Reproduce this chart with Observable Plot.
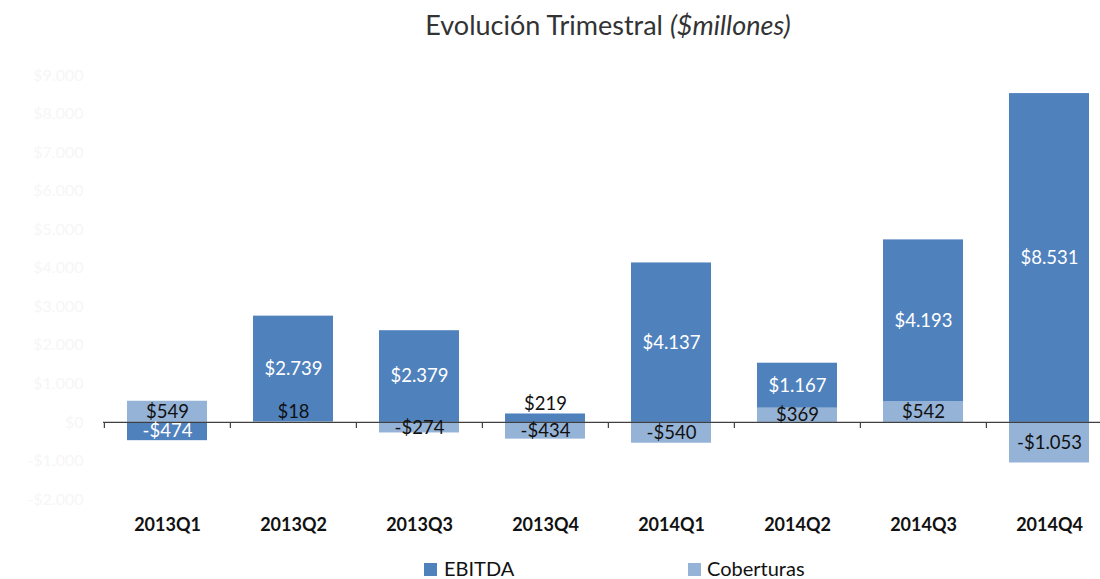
<!DOCTYPE html>
<html><head><meta charset="utf-8">
<script src="https://cdn.jsdelivr.net/npm/d3@7"></script>
<script src="https://cdn.jsdelivr.net/npm/@observablehq/plot@0.6"></script>
<style>
body{margin:0;background:#fff;font-family:Lato,"Open Sans",sans-serif;width:1100px;height:579px;overflow:hidden}
#title{height:44px;width:1010px;margin-left:103px;text-align:center;font-size:27px;line-height:50px;color:#333;white-space:nowrap}
#legend{position:relative;height:31px;font-size:20px;color:#111}
.sw{position:absolute;width:13px;height:13px;top:15px}
.lt{position:absolute;top:10px;line-height:20px}
</style></head><body>
<div id="title">Evolución Trimestral <i>($millones)</i></div>
<div id="chart"></div>
<div id="legend">
  <div class="sw" style="left:424px;background:#4f81bd"></div><div class="lt" style="left:444px">EBITDA</div>
  <div class="sw" style="left:688px;background:#95b3d7"></div><div class="lt" style="left:707px">Coberturas</div>
</div>
<script>
const quarters = ["2013Q1","2013Q2","2013Q3","2013Q4","2014Q1","2014Q2","2014Q3","2014Q4"];
const ebitda = [-474, 2739, 2379, 219, 4137, 1167, 4193, 8531];
const coberturas = [549, 18, -274, -434, -540, 369, 542, -1053];
const series = ["Coberturas","EBITDA"];
const colors = ["#95b3d7","#4f81bd"];
const yTicks = [-2000,-1000,0,1000,2000,3000,4000,5000,6000,7000,8000,9000];

const loc = d3.formatLocale({decimal:",", thousands:".", grouping:[3], currency:["$",""]});
const num = loc.format(",");
const money = v => (v < 0 ? "-" : "") + "$" + num(Math.abs(v));

const rows = [];
quarters.forEach((q, i) => {
  rows.push({q, s: "Coberturas", v: coberturas[i]});
  rows.push({q, s: "EBITDA", v: ebitda[i]});
});
quarters.forEach(q => {
  let pos = 0, neg = 0;
  rows.filter(r => r.q === q).forEach(r => {
    if (r.v >= 0) { r.y1 = pos; r.y2 = pos + r.v; pos = r.y2; }
    else { r.y1 = neg; r.y2 = neg + r.v; neg = r.y2; }
    r.mid = (r.y1 + r.y2) / 2;
    r.small = r.v > 0 && r.v < 300;
    r.label = money(r.v);
  });
});

const fontFam = "Lato, 'Open Sans', sans-serif";
const chart = Plot.plot({
  width: 1100, height: 504,
  marginLeft: 103, marginRight: -13, marginTop: 31, marginBottom: 49,
  style: {fontFamily: fontFam, background: "#fff", overflow: "hidden"},
  x: {domain: quarters, paddingInner: 0.365, paddingOuter: 0.1825, label: null},
  y: {domain: [-2000, 9000], label: null},
  color: {domain: series, range: colors},
  marks: [
    Plot.barY(rows, {x: "q", y1: "y1", y2: "y2", fill: "s"}),
    Plot.ruleY([0], {stroke: "#404040", strokeWidth: 1.2}),
    Plot.ruleX(quarters, {x: d => d, dx: -63.125, y1: 0, y2: -160, stroke: "#404040", strokeWidth: 1.2}),
    Plot.text(rows.filter(r => !r.small && r.s === "EBITDA"), {x: "q", y: "mid", text: "label", fill: "white", fontSize: 18.5}),
    Plot.text(rows.filter(r => !r.small && r.s === "Coberturas"), {x: "q", y: "mid", text: "label", fill: "#111", fontSize: 18.5}),
    Plot.text(rows.filter(r => r.small), {x: "q", y: "y2", text: "label", fill: "#111", fontSize: 18.5, lineAnchor: "bottom", dy: -4}),
    Plot.axisY({ticks: yTicks, tickSize: 0, tickPadding: 20, tickFormat: money, fill: "#f6f6f6", fontSize: 16}),
    Plot.axisX({tickSize: 0, tickPadding: 19, fontSize: 18, fontWeight: "bold", fill: "#111"})
  ]
});
document.getElementById("chart").appendChild(chart);
</script>
</body></html>
